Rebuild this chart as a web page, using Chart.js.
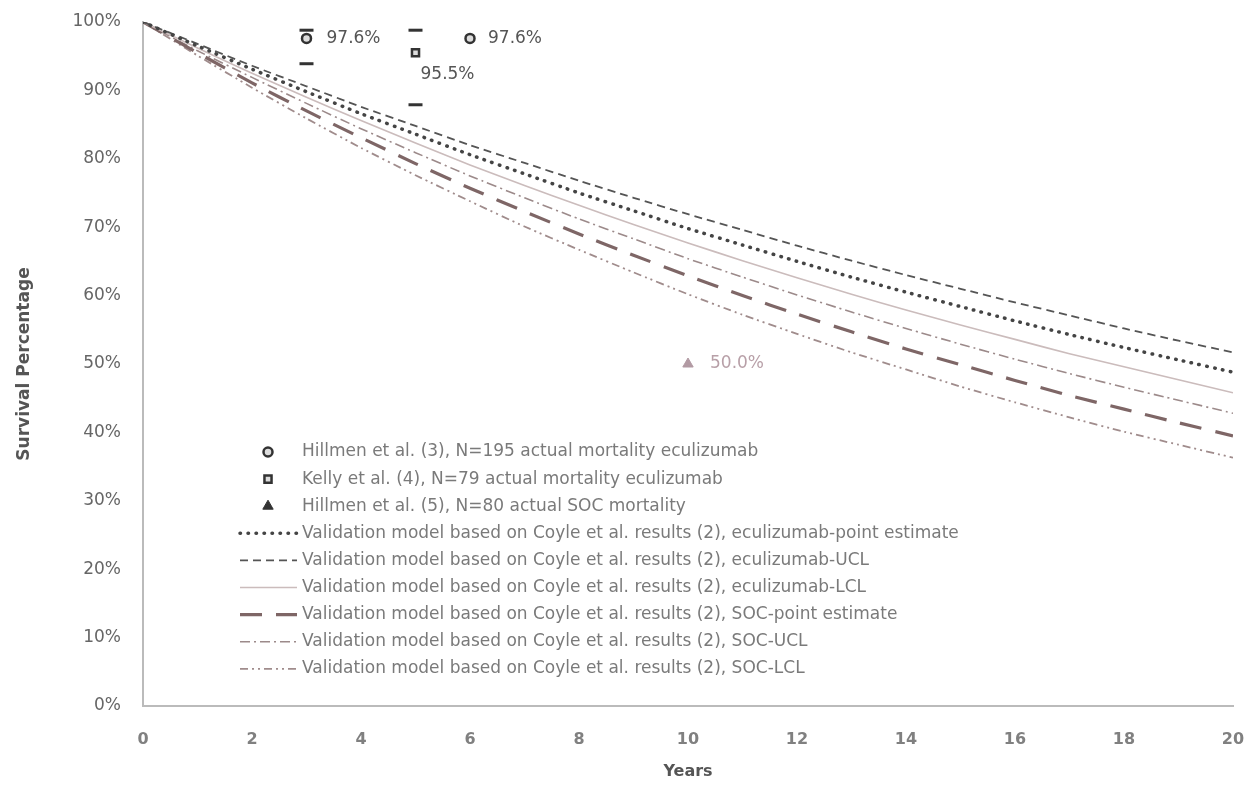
<!DOCTYPE html>
<html>
<head>
<meta charset="utf-8">
<script src="https://cdn.jsdelivr.net/npm/chart.js@4.4.1/dist/chart.umd.min.js"></script>
<style>
  html, body { margin: 0; padding: 0; background: #fff; }
  #wrap { width: 1255px; height: 785px; position: relative; }
</style>
</head>
<body>
<div id="wrap"><canvas id="survival"></canvas></div>
<script>
// years of follow-up
var years = [0, 1, 2, 3, 4, 5, 6, 7, 8, 9, 10, 11, 12, 13, 14, 15, 16, 17, 18, 19, 20];

// validation model curves (survival %)
var ecuPoint = [100, 96.5, 93.1, 89.8, 86.6, 83.6, 80.6, 77.8, 75.0, 72.4, 69.8, 67.4, 65.0, 62.7, 60.5, 58.4, 56.3, 54.3, 52.4, 50.6, 48.8];
var ecuUCL   = [100, 96.8, 93.6, 90.6, 87.6, 84.8, 82.0, 79.4, 76.8, 74.3, 71.9, 69.6, 67.3, 65.1, 63.0, 61.0, 59.0, 57.1, 55.2, 53.4, 51.7];
var ecuLCL   = [100, 96.2, 92.5, 89.0, 85.6, 82.3, 79.1, 76.1, 73.2, 70.4, 67.7, 65.1, 62.6, 60.2, 57.9, 55.7, 53.6, 51.5, 49.6, 47.7, 45.8];
var socPoint = [100, 95.5, 91.1, 87.0, 83.1, 79.3, 75.7, 72.3, 69.0, 65.9, 62.9, 60.0, 57.3, 54.7, 52.2, 49.9, 47.6, 45.4, 43.4, 41.4, 39.5];
var socUCL   = [100, 95.8, 91.9, 88.1, 84.4, 80.9, 77.5, 74.3, 71.2, 68.3, 65.4, 62.7, 60.1, 57.6, 55.2, 52.9, 50.7, 48.6, 46.6, 44.7, 42.8];
var socLCL   = [100, 95.1, 90.4, 85.9, 81.6, 77.6, 73.8, 70.1, 66.7, 63.4, 60.2, 57.2, 54.4, 51.7, 49.2, 46.7, 44.4, 42.2, 40.1, 38.2, 36.3];

// observed mortality points
var hillmen3Years = [3, 6];
var hillmen3Values = [97.6, 97.6];
var kellyYears = [5];
var kellyValues = [95.5];
var hillmen5Years = [10];
var hillmen5Values = [50.0];

// error bar caps
var ciYears = [3, 5];
var ciLow = [93.9, 87.9];
var ciHigh = [98.8, 98.8];

var yTicks = [0, 10, 20, 30, 40, 50, 60, 70, 80, 90, 100];
var xTicks = [0, 2, 4, 6, 8, 10, 12, 14, 16, 18, 20];

var legendLabels = [
  'Hillmen et al. (3), N=195 actual mortality eculizumab',
  'Kelly et al. (4), N=79 actual mortality eculizumab',
  'Hillmen et al. (5), N=80 actual SOC mortality',
  'Validation model based on Coyle et al. results (2), eculizumab-point estimate',
  'Validation model based on Coyle et al. results (2), eculizumab-UCL',
  'Validation model based on Coyle et al. results (2), eculizumab-LCL',
  'Validation model based on Coyle et al. results (2), SOC-point estimate',
  'Validation model based on Coyle et al. results (2), SOC-UCL',
  'Validation model based on Coyle et al. results (2), SOC-LCL'
];

var FONT = '"DejaVu Sans", Verdana, sans-serif';

function pts(xs, ys) {
  var out = [];
  for (var i = 0; i < xs.length; i++) out.push({ x: xs[i], y: ys[i] });
  return out;
}

var capPoints = pts(ciYears, ciLow).concat(pts(ciYears, ciHigh));

function lineSet(label, values, color, width, dash, cap) {
  return {
    type: 'line',
    label: label,
    data: pts(years, values),
    borderColor: color,
    borderWidth: width,
    borderDash: dash,
    borderCapStyle: cap || 'butt',
    pointRadius: 0,
    tension: 0.2,
    fill: false
  };
}

var datasets = [
  {
    type: 'scatter', label: legendLabels[0], data: pts(hillmen3Years, hillmen3Values),
    pointStyle: 'circle', pointRadius: 4.5, borderWidth: 2.5,
    borderColor: '#333', backgroundColor: '#ddd',
    valueLabels: ['97.6%', '97.6%'], labelColor: '#555', labelDx: [20, 18], labelDy: [0, 0]
  },
  {
    type: 'scatter', label: legendLabels[1], data: pts(kellyYears, kellyValues),
    pointStyle: 'rect', pointRadius: 5, borderWidth: 2.5,
    borderColor: '#333', backgroundColor: '#ddd',
    valueLabels: ['95.5%'], labelColor: '#555', labelDx: [5], labelDy: [22]
  },
  {
    type: 'scatter', label: legendLabels[2], data: pts(hillmen5Years, hillmen5Values),
    pointStyle: 'triangle', pointRadius: 6, borderWidth: 1,
    borderColor: '#b29aa3', backgroundColor: '#b29aa3',
    valueLabels: ['50.0%'], labelColor: '#b8a0a8', labelDx: [22], labelDy: [0]
  },
  lineSet(legendLabels[3], ecuPoint, '#444', 3.5, [0.5, 7.5], 'round'),
  lineSet(legendLabels[4], ecuUCL, '#555', 1.8, [8, 5]),
  lineSet(legendLabels[5], ecuLCL, '#cbbcbc', 1.6, []),
  lineSet(legendLabels[6], socPoint, '#7e6666', 3.2, [22, 14]),
  lineSet(legendLabels[7], socUCL, '#9c8a8a', 1.6, [10, 4, 2, 4]),
  lineSet(legendLabels[8], socLCL, '#a08c8c', 1.8, [8, 4, 2, 4, 2, 4]),
  {
    type: 'scatter', label: 'ci', data: capPoints,
    pointStyle: 'line', pointRadius: 7, borderWidth: 3,
    borderColor: '#333', backgroundColor: '#333'
  }
];

// value labels + legend drawn inside the plot
var extrasPlugin = {
  id: 'extras',
  afterDatasetsDraw: function(chart) {
    var ctx = chart.ctx;
    ctx.save();
    ctx.font = '17px ' + FONT;
    ctx.textBaseline = 'middle';
    ctx.textAlign = 'left';
    chart.data.datasets.forEach(function(ds, i) {
      if (!ds.valueLabels) return;
      var meta = chart.getDatasetMeta(i);
      meta.data.forEach(function(el, j) {
        ctx.fillStyle = ds.labelColor;
        ctx.fillText(ds.valueLabels[j], el.x + ds.labelDx[j], el.y + ds.labelDy[j]);
      });
    });

    // legend
    var x0 = 240, x1 = 297, tx = 302, y = 452, step = 27.1;
    ctx.font = '17px ' + FONT;
    for (var k = 0; k < legendLabels.length; k++) {
      var ds = chart.data.datasets[k];
      var yy = y + k * step;
      if (ds.type === 'scatter') {
        var opts = {
          pointStyle: ds.pointStyle, radius: ds.pointRadius, borderWidth: ds.borderWidth,
          borderColor: '#333', backgroundColor: k === 2 ? '#333' : '#ddd'
        };
        ctx.strokeStyle = opts.borderColor;
        ctx.fillStyle = opts.backgroundColor;
        ctx.lineWidth = opts.borderWidth;
        Chart.helpers.drawPoint(ctx, opts, 268, yy);
      } else {
        ctx.beginPath();
        ctx.setLineDash(ds.borderDash);
        ctx.lineCap = ds.borderCapStyle;
        ctx.strokeStyle = ds.borderColor;
        ctx.lineWidth = ds.borderWidth;
        ctx.moveTo(x0, yy);
        ctx.lineTo(x1, yy);
        ctx.stroke();
        ctx.setLineDash([]);
      }
      ctx.fillStyle = '#7a7a7a';
      ctx.fillText(legendLabels[k], tx, yy);
    }
    ctx.restore();
  }
};

var ctx = document.getElementById('survival').getContext('2d');
var chart = new Chart(ctx, {
  data: { datasets: datasets },
  plugins: [extrasPlugin],
  options: {
    responsive: true,
    maintainAspectRatio: false,
    animation: false,
    layout: { padding: { top: 22, right: 22, left: 0, bottom: 0 } },
    plugins: { legend: { display: false }, tooltip: { enabled: false } },
    scales: {
      x: {
        type: 'linear', min: 0, max: 20,
        afterBuildTicks: function(axis) { axis.ticks = xTicks.map(function(v) { return { value: v }; }); },
        afterFit: function(axis) { axis.height = 79; axis.paddingLeft = 0; axis.paddingRight = 0; },
        grid: { display: false, drawOnChartArea: false, tickLength: 6, color: '#bbb' },
        border: { color: '#bbb', width: 2 },
        ticks: { color: '#808080', padding: 18, font: { family: FONT, size: 16, weight: 'bold' } },
        title: { display: true, text: 'Years', color: '#555', padding: { top: 4 }, font: { family: FONT, size: 16, weight: 'bold' } }
      },
      y: {
        type: 'linear', min: 0, max: 100,
        afterBuildTicks: function(axis) { axis.ticks = yTicks.map(function(v) { return { value: v }; }); },
        afterFit: function(axis) { axis.width = 143; axis.paddingTop = 0; axis.paddingBottom = 0; },
        grid: { display: false, drawOnChartArea: false, tickLength: 6, color: '#bbb' },
        border: { color: '#bbb', width: 2 },
        ticks: { color: '#666', padding: 16, font: { family: FONT, size: 17 }, callback: function(v) { return v + '%'; } },
        title: { display: true, text: 'Survival Percentage', color: '#555', padding: { top: 14, bottom: 4 }, font: { family: FONT, size: 17, weight: 'bold' } }
      }
    }
  }
});
</script>
</body>
</html>
